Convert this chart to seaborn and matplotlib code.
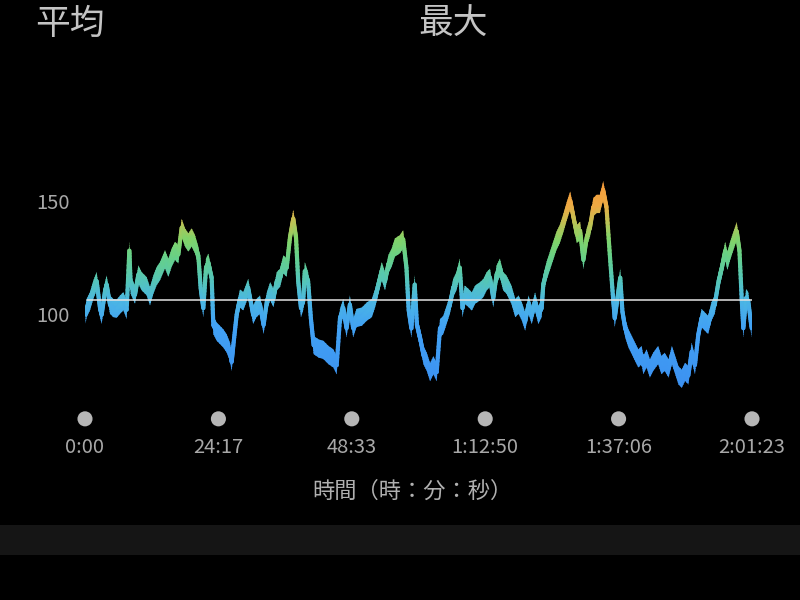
import numpy as np
import pandas as pd
import matplotlib
matplotlib.use("Agg")
import matplotlib.pyplot as plt
import seaborn as sns
from matplotlib.colors import LinearSegmentedColormap, Normalize
from matplotlib.collections import LineCollection

# ---------------- data ----------------
time_min = [
    0.10, 0.30, 0.91, 1.52, 2.12, 2.73, 3.03, 3.64, 3.94, 4.55, 5.16, 5.76, 6.37, 6.98,
    7.58, 8.07, 8.31, 9.10, 9.71, 10.31, 11.22, 11.83, 12.44, 13.04, 13.65, 14.56,
    15.17, 15.77, 16.38, 16.99, 17.59, 18.20, 18.81, 19.41, 20.02, 20.63, 21.05,
    21.53, 22.02, 22.44, 23.05, 23.35, 23.96, 24.57, 25.17, 25.78, 26.39, 26.69,
    27.00, 27.60,
    28.2, 28.8, 29.7, 30.6, 31.2, 31.85, 32.5, 33.1, 33.7, 34.3, 34.9, 35.5, 36.1,
    36.7, 37.3, 37.9, 38.4, 38.8, 39.3, 39.7, 40.0, 40.6, 41.1, 41.6, 42.5, 43.4,
    44.3, 45.2, 45.8, 46.4, 47.0, 47.6, 48.2, 48.8, 49.4, 50.4, 51.3, 52.2, 52.8,
    53.4, 54.0, 54.6, 55.2, 55.8, 56.4, 57.3,
    57.9, 58.5, 58.9, 59.4, 60.0, 60.4, 61.0, 61.6, 62.2, 62.8, 63.4, 64.0, 64.6,
    65.2, 65.8, 66.4, 67.0, 67.6, 68.2, 68.7, 69.1, 69.8, 70.4, 71.0, 71.9, 72.5,
    73.1, 73.7, 74.3, 74.9, 75.5, 76.1, 76.7, 77.6, 78.3, 78.9, 79.5, 80.1, 80.7,
    81.3, 81.9, 82.5, 83.1,
    83.4, 84.0, 84.6, 85.2, 85.8, 86.4, 87.0, 87.7, 88.3, 88.9, 89.5, 90.1, 90.7,
    91.3, 91.9, 92.5, 93.1, 93.7, 94.3, 94.9, 95.5, 96.1, 96.4, 96.9, 97.4, 97.8,
    98.3, 98.9, 99.5, 100.1, 100.7,
    101.3, 101.6, 102.2, 102.8, 103.4, 104.3, 104.9, 105.5, 106.2, 106.8, 107.4,
    108.0, 108.6, 109.2, 109.8, 110.4, 111.0, 111.6, 112.2, 112.8, 113.4, 114.0,
    114.6, 115.3, 115.9, 116.5, 116.9, 117.4, 118.0, 118.6, 119.1, 119.5, 119.8,
    120.3, 120.7, 121.3,
]
heart_rate = [
    100.0, 102.8, 105.8, 110.9, 114.6, 102.8, 99.9, 110.2, 113.1, 104.3, 102.8, 102.5,
    104.3, 105.8, 102.1, 128.0, 113.1, 108.7, 117.5, 114.6, 112.4, 108.0, 113.1,
    116.8, 119.0, 124.2, 120.5, 124.9, 127.9, 126.4, 138.0, 133.8, 131.6, 133.8,
    130.8, 125.7, 111.6, 102.8, 120.5, 122.7, 116.1, 95.4, 92.5, 91.0, 89.5, 87.3,
    83.6, 79.2, 86.6, 99.9,
    107.0, 105.8, 111.6, 99.9, 102.8, 104.3, 95.4, 105.8, 110.2, 107.2, 114.6, 116.1,
    122.0, 120.5, 133.8, 142.0, 133.8, 114.6, 102.8, 105.8, 119.0, 114.6, 98.4, 86.6,
    85.1, 84.4, 82.2, 80.7, 77.7, 98.4, 102.8, 94.0, 104.3, 94.0, 98.4, 99.1, 101.3,
    102.8, 107.2, 113.1, 119.0, 114.6, 122.0, 124.9, 129.4, 130.8,
    133.0, 120.5, 102.0, 93.9, 113.1, 95.4, 89.5, 82.1, 79.2, 74.7, 77.7, 74.7, 93.9,
    95.4, 99.8, 104.3, 111.6, 114.6, 120.5, 102.8, 108.7, 107.2, 105.7, 108.7, 110.2,
    111.6, 114.6, 116.1, 107.2, 117.5, 120.5, 114.6, 113.1, 108.7, 102.8, 104.3,
    101.3, 96.9, 104.3, 99.8, 105.7, 99.8, 102.8,
    113.2, 119.1, 123.5, 127.9, 132.3, 135.3, 139.7, 145.6, 150.0, 142.6, 135.3,
    136.7, 124.0, 133.8, 138.2, 147.1, 148.5, 148.5, 154.5, 147.1, 126.4, 107.2,
    98.4, 107.2, 116.1, 101.3, 94.0, 89.5, 86.6, 83.6, 80.7,
    82.2, 77.8, 80.7, 76.3, 79.2, 82.2, 77.8, 79.2, 76.3, 82.2, 77.8, 73.3, 71.8,
    74.8, 73.3, 83.6, 77.8, 91.0, 98.4, 96.9, 95.4, 101.3, 104.3, 114.6, 120.5,
    127.9, 123.5, 127.9, 132.3, 136.5, 127.9, 107.2, 94.0, 107.2, 105.8, 94.0,
]
average_hr = 106.5
tick_minutes = [0.0, 24.28, 48.55, 72.83, 97.10, 121.38]
tick_labels = ["0:00", "24:17", "48:33", "1:12:50", "1:37:06", "2:01:23"]
ytick_values = [100, 150]
header_left = "平均"
header_mid = "最大"
x_title = "時間（時：分：秒）"

# ---------------- style ----------------
sns.set_theme(style="dark")
plt.rcParams["font.family"] = ["Noto Sans CJK JP", "DejaVu Sans"]

fig = plt.figure(figsize=(8, 6), dpi=100, facecolor="black")
ax = fig.add_axes([85 / 800, 1 - 430 / 600, 667 / 800, 260 / 600])
ax.set_facecolor("black")

df = pd.DataFrame({"t": time_min, "hr": heart_rate})

cmap = LinearSegmentedColormap.from_list(
    "hr",
    [(0.00, "#3a8cf0"), (0.35, "#42a2f4"), (0.46, "#4bb6e4"), (0.55, "#55c6b8"),
     (0.65, "#66d08a"), (0.73, "#82d46a"), (0.81, "#c4c052"), (0.88, "#eeaa44"),
     (1.00, "#f89838")])
norm = Normalize(60, 160)

ymin, ymax = 49.3, 163.4
xmax = 121.38
half = 4.0  # half thickness of the band, bpm

# base line through seaborn
sns.lineplot(data=df, x="t", y="hr", ax=ax, color="#48aaf0", linewidth=1.0,
             estimator=None, sort=True, zorder=2)

# geometry of the same straight segments, split finely for colouring only
t = np.asarray(time_min)
h = np.asarray(heart_rate)
frac = np.linspace(0, 1, 13)[:-1]
tf = np.concatenate([t[i] + (t[i + 1] - t[i]) * frac for i in range(len(t) - 1)] + [t[-1:]])
hf = np.concatenate([h[i] + (h[i + 1] - h[i]) * frac for i in range(len(h) - 1)] + [h[-1:]])

# gradient band made from overlapping horizontal colour strips (no edges)
lo, hi = hf - half, hf + half
step = 1.0
for yk in np.arange(60, 162, step):
    a = np.clip(lo, yk, yk + 1.5 * step)
    b = np.clip(hi, yk, yk + 1.5 * step)
    if np.any(b > a):
        c = cmap(norm(yk + step / 2))
        ax.fill_between(tf, a, b, facecolor=c, edgecolor="none", linewidth=0,
                        zorder=3)

# gradient-coloured stroke along the segments (keeps steep parts visible)
segs, cols = [], []
for j in range(len(tf) - 1):
    segs.append([(tf[j], hf[j]), (tf[j + 1], hf[j + 1])])
    cols.append(cmap(norm(0.5 * (hf[j] + hf[j + 1]))))
lc = LineCollection(segs, colors=cols, linewidths=3.0, capstyle="round", zorder=4)
ax.add_collection(lc)

# average line
sns.lineplot(x=[0.35, xmax], y=[average_hr, average_hr], ax=ax, color="#e4e4e4",
             linewidth=1.1, zorder=5)

# tick dots
dot_y = 54.2
sns.scatterplot(x=tick_minutes, y=[dot_y] * len(tick_minutes), ax=ax, s=118,
                color="#b6b6b6", edgecolor="none", clip_on=False, zorder=6)

ax.set_xlim(0, xmax)
ax.set_ylim(ymin, ymax)
ax.set_xticks(tick_minutes)
ax.set_xticklabels(tick_labels)
ax.set_yticks(ytick_values)
ax.set_yticklabels([str(v) for v in ytick_values])
ax.tick_params(axis="x", length=0, pad=5, labelsize=14.5, colors="#a8a8a8")
ax.tick_params(axis="y", length=0, pad=11, labelsize=14.5, colors="#a8a8a8")
ax.set_xlabel("")
ax.set_ylabel("")
ax.grid(False)
for s in ax.spines.values():
    s.set_visible(False)

# texts
fig.text(35 / 800, 1 - 24 / 600, header_left, color="#c4c4c4", fontsize=25,
         ha="left", va="center")
fig.text(418 / 800, 1 - 24 / 600, header_mid, color="#c4c4c4", fontsize=25,
         ha="left", va="center")
fig.text(412 / 800, 1 - 491 / 600, x_title, color="#b0b0b0", fontsize=16,
         ha="center", va="center")

# separator band
fig.patches.append(plt.Rectangle((0, 1 - 555 / 600), 1, 30 / 600,
                                 transform=fig.transFigure, facecolor="#151515",
                                 edgecolor="none", zorder=0))

fig.savefig("out.png", dpi=100, facecolor="black")
